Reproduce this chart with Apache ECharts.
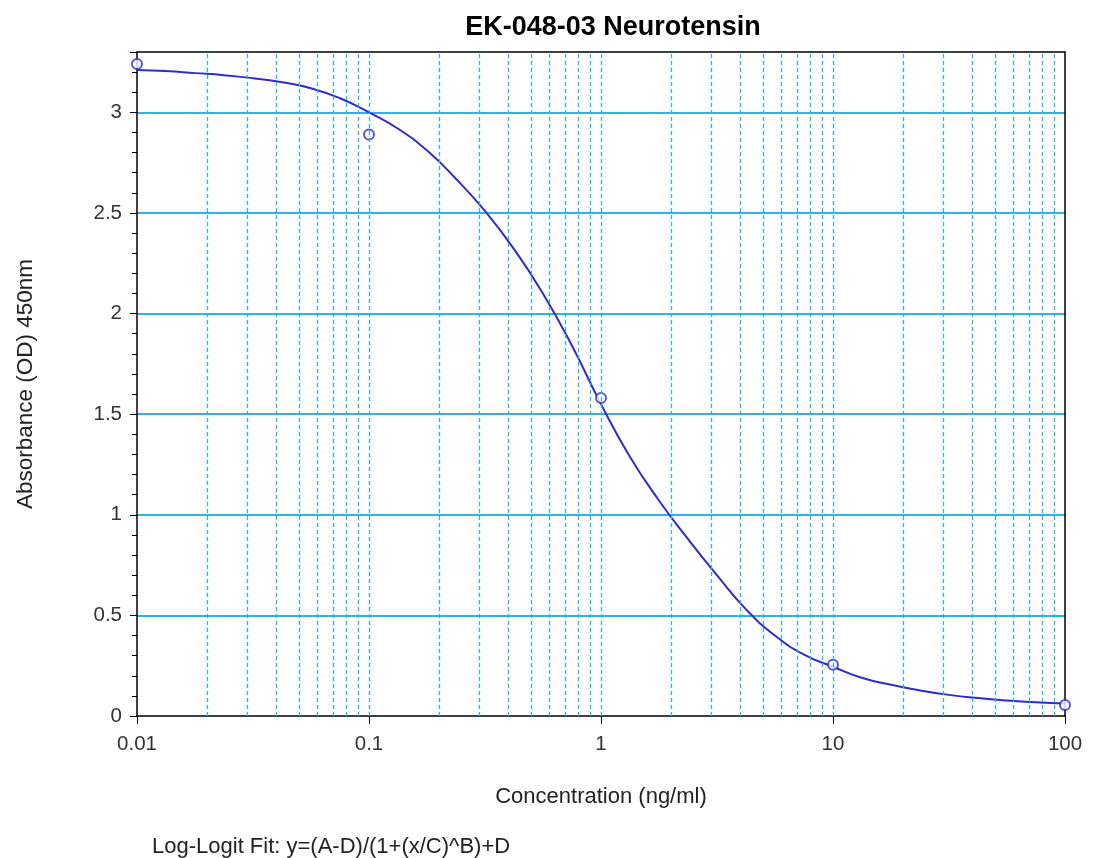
<!DOCTYPE html>
<html>
<head>
<meta charset="utf-8">
<script src="https://cdn.jsdelivr.net/npm/echarts@6/dist/echarts.min.js"></script>
<style>html,body{margin:0;padding:0;background:#fff;}#c{width:1097px;height:858px;}</style>
</head>
<body>
<div id="c"></div>
<script>
// Measured standards
var stdConc = [0.01, 0.1, 1, 10, 100];
var stdOD = [3.24, 2.89, 1.58, 0.255, 0.055];
// Fitted curve
var fitConc = [0.01, 0.0133, 0.0178, 0.0237, 0.0316, 0.0422, 0.0562, 0.075,
               0.1, 0.133, 0.178, 0.237, 0.316, 0.422, 0.562, 0.75,
               1, 1.33, 1.78, 2.37, 3.16, 4.22, 5.62, 7.5,
               10, 13.3, 17.8, 23.7, 31.6, 42.2, 56.2, 75, 100];
var fitOD = [3.21, 3.205, 3.195, 3.185, 3.17, 3.15, 3.12, 3.07,
             3.00, 2.92, 2.81, 2.67, 2.51, 2.32, 2.10, 1.84,
             1.55, 1.29, 1.07, 0.88, 0.70, 0.53, 0.40, 0.305,
             0.245, 0.19, 0.155, 0.127, 0.105, 0.089, 0.077, 0.068, 0.062];
// Vertical log grid lines
var vGrid = [0.02,0.03,0.04,0.05,0.06,0.07,0.08,0.09,0.1,0.2,0.3,0.4,0.5,0.6,0.7,0.8,0.9,1,2,3,4,5,6,7,8,9,10,20,30,40,50,60,70,80,90];

var title = 'EK-048-03 Neurotensin';
var xName = 'Concentration (ng/ml)';
var yName = 'Absorbance (OD) 450nm';
var footnote = 'Log-Logit Fit: y=(A-D)/(1+(x/C)^B)+D';

var font = 'Liberation Sans, Arial, sans-serif';
var gridColor = '#2fb3e3';
var lineColor = '#2c2cd0';

var chart = echarts.init(document.getElementById('c'));
chart.setOption({
  backgroundColor: '#fff',
  animation: false,
  title: {
    text: title, left: 608, top: 9, textAlign: 'center',
    textStyle: { fontFamily: font, fontSize: 27, fontWeight: 'bold', color: '#000' }
  },
  grid: { left: 137, right: 32, top: 52, bottom: 142 },
  xAxis: [{
    type: 'log', logBase: 10, min: 0.01, max: 100,
    name: xName, nameLocation: 'middle', nameGap: 70,
    nameTextStyle: { fontFamily: font, fontSize: 22, color: '#222' },
    axisLine: { onZero: false, lineStyle: { color: '#000', width: 1.5 } },
    axisTick: { show: true, length: 8, lineStyle: { color: '#000' } },
    axisLabel: { fontFamily: font, fontSize: 20.5, color: '#333', margin: 18,
      formatter: function (v) { return String(+v.toPrecision(6)); } },
    splitLine: { show: false }
  }, {
    type: 'log', logBase: 10, min: 0.01, max: 100, position: 'top',
    axisLine: { onZero: false, lineStyle: { color: '#000', width: 1.5 } },
    axisTick: { show: false }, axisLabel: { show: false }, splitLine: { show: false }
  }],
  yAxis: [{
    type: 'value', min: 0, max: 3.3, interval: 0.5,
    name: yName, nameLocation: 'middle', nameGap: 100, nameRotate: 90,
    nameTextStyle: { fontFamily: font, fontSize: 22.5, color: '#222' },
    axisLine: { show: true, onZero: false, lineStyle: { color: '#000', width: 1.5 } },
    axisTick: { show: true, length: 7, lineStyle: { color: '#000' } },
    minorTick: { show: true, splitNumber: 5, length: 5, lineStyle: { color: '#000' } },
    axisLabel: { fontFamily: font, fontSize: 20.5, color: '#333', margin: 15, showMaxLabel: false },
    splitLine: { show: true, showMinLine: false, showMaxLine: false, lineStyle: { color: gridColor, width: 2 } }
  }, {
    type: 'value', min: 0, max: 3.3, position: 'right',
    axisLine: { show: true, onZero: false, lineStyle: { color: '#000', width: 1.5 } },
    axisTick: { show: false }, axisLabel: { show: false }, splitLine: { show: false }
  }],
  series: [{
    type: 'line', name: 'fit', smooth: true, showSymbol: false,
    data: fitConc.map(function (x, i) { return [x, fitOD[i]]; }),
    lineStyle: { color: lineColor, width: 2 },
    z: 3,
    markLine: {
      silent: true, symbol: 'none', label: { show: false },
      lineStyle: { color: gridColor, type: [4, 3], width: 1.3 },
      data: vGrid.map(function (v) { return { xAxis: v }; })
    }
  }, {
    type: 'scatter', name: 'std', symbol: 'emptyCircle', symbolSize: 10, clip: false,
    data: stdConc.map(function (x, i) { return [x, stdOD[i]]; }),
    itemStyle: { color: lineColor, borderColor: lineColor, borderWidth: 1.8 },
    z: 4
  }],
  graphic: [{
    type: 'text', left: 152, top: 836,
    style: { text: footnote, font: '22px ' + font, fill: '#222' }
  }]
});
</script>
</body>
</html>
